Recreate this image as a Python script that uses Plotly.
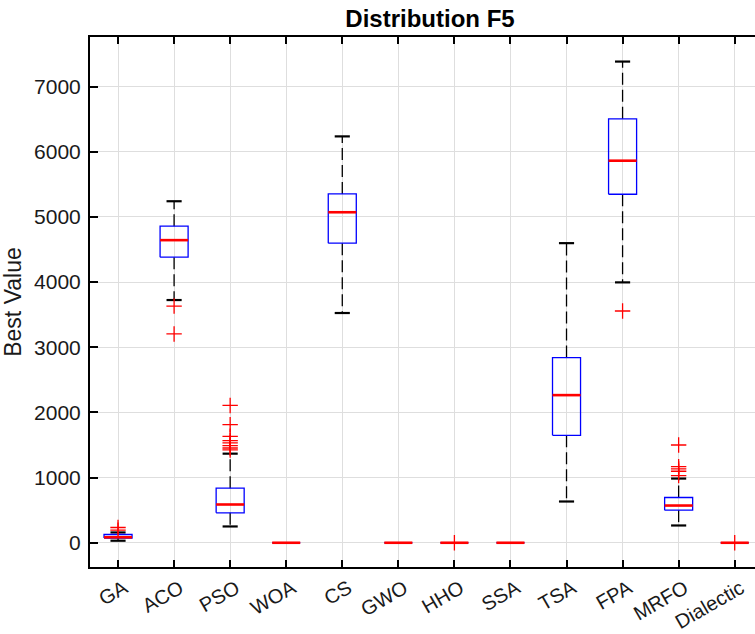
import plotly.graph_objects as go

names = ["GA", "ACO", "PSO", "WOA", "CS", "GWO", "HHO", "SSA", "TSA", "FPA", "MRFO", "Dialectic"]
lower_w = [31, 3724, 250, 0, 3525, 0, 0, 0, 633, 3995, 265, 0]
q1 = [72, 4382, 459, 0, 4597, 0, 0, 0, 1649, 5347, 500, 0]
median = [84, 4643, 587, 0, 5071, 0, 0, 0, 2265, 5862, 571, 0]
q3 = [127, 4857, 837, 0, 5353, 0, 0, 0, 2842, 6505, 694, 0]
upper_w = [158, 5240, 1367, 0, 6235, 0, 0, 0, 4597, 7383, 985, 0]
outliers = [
    [194, 234],
    [3632, 3204],
    [1424, 1454, 1490, 1531, 1566, 1633, 1811, 2107],
    [],
    [],
    [],
    [0],
    [],
    [],
    [3556],
    [1030, 1097, 1133, 1168, 1500],
    [0],
]

BOX_HALF = 0.25
CAP_HALF = 0.135

fig = go.Figure()

# whiskers (dashed)
wx, wy = [], []
for i in range(len(names)):
    x = i + 1
    if upper_w[i] > q3[i]:
        wx += [x, x, None]
        wy += [q3[i], upper_w[i], None]
    if lower_w[i] < q1[i]:
        wx += [x, x, None]
        wy += [q1[i], lower_w[i], None]
fig.add_trace(go.Scatter(x=wx, y=wy, mode="lines",
                         line=dict(color="black", width=1.3, dash="12px,5px"),
                         hoverinfo="skip", showlegend=False))

# caps
cx, cy = [], []
for i in range(len(names)):
    x = i + 1
    if upper_w[i] > q3[i] or lower_w[i] < q1[i]:
        cx += [x - CAP_HALF, x + CAP_HALF, None, x - CAP_HALF, x + CAP_HALF, None]
        cy += [upper_w[i], upper_w[i], None, lower_w[i], lower_w[i], None]
fig.add_trace(go.Scatter(x=cx, y=cy, mode="lines",
                         line=dict(color="black", width=2.2),
                         hoverinfo="skip", showlegend=False))

# boxes
bx, by = [], []
for i in range(len(names)):
    x = i + 1
    bx += [x - BOX_HALF, x + BOX_HALF, x + BOX_HALF, x - BOX_HALF, x - BOX_HALF, None]
    by += [q1[i], q1[i], q3[i], q3[i], q1[i], None]
fig.add_trace(go.Scatter(x=bx, y=by, mode="lines",
                         line=dict(color="#0000FF", width=1.3),
                         hoverinfo="skip", showlegend=False))

# medians
mx, my = [], []
for i in range(len(names)):
    x = i + 1
    mx += [x - BOX_HALF, x + BOX_HALF, None]
    my += [median[i], median[i], None]
fig.add_trace(go.Scatter(x=mx, y=my, mode="lines",
                         line=dict(color="#FF0000", width=2.6),
                         hoverinfo="skip", showlegend=False))

# outliers
ox, oy = [], []
for i, vals in enumerate(outliers):
    for v in vals:
        ox.append(i + 1)
        oy.append(v)
fig.add_trace(go.Scatter(x=ox, y=oy, mode="markers",
                         marker=dict(symbol="cross-thin", size=11,
                                     line=dict(color="#FF0000", width=1.3)),
                         hoverinfo="skip", showlegend=False))

fig.update_layout(
    width=755, height=634,
    margin=dict(l=90, r=0, t=37, b=67),
    paper_bgcolor="white", plot_bgcolor="white",
    font=dict(family="Liberation Sans, Arial, sans-serif", color="#1a1a1a", size=21),
    title=dict(text="<b>Distribution F5</b>", x=430 / 755, xref="container", xanchor="center",
               y=1 - 19 / 634, yref="container", yanchor="middle",
               font=dict(size=24, color="black")),
    showlegend=False,
)
fig.update_xaxes(
    range=[0.5, 12.362],
    tickmode="array", tickvals=list(range(1, len(names) + 1)), ticktext=names,
    tickangle=-30,
    automargin=False,
    showgrid=True, gridcolor="#dedede", gridwidth=1,
    showline=True, linecolor="black", linewidth=2, mirror="ticks",
    ticks="inside", ticklen=7, tickwidth=2, tickcolor="black",
    zeroline=False,
    ticklabelstandoff=0,
    ticklabelshift=6,
    tickfont=dict(size=20, color="#1a1a1a"),
)
fig.update_yaxes(
    range=[-372, 7760],
    tickvals=[0, 1000, 2000, 3000, 4000, 5000, 6000, 7000],
    automargin=False,
    showgrid=True, gridcolor="#dedede", gridwidth=1,
    showline=True, linecolor="black", linewidth=2, mirror=False,
    ticks="inside", ticklen=8, tickwidth=2, tickcolor="black",
    zeroline=False,
    ticklabelstandoff=3,
    tickfont=dict(size=21, color="#1a1a1a"),
    title=dict(text="Best Value", font=dict(size=23, color="#1a1a1a"), standoff=8),
)

fig.write_html("out.html")
